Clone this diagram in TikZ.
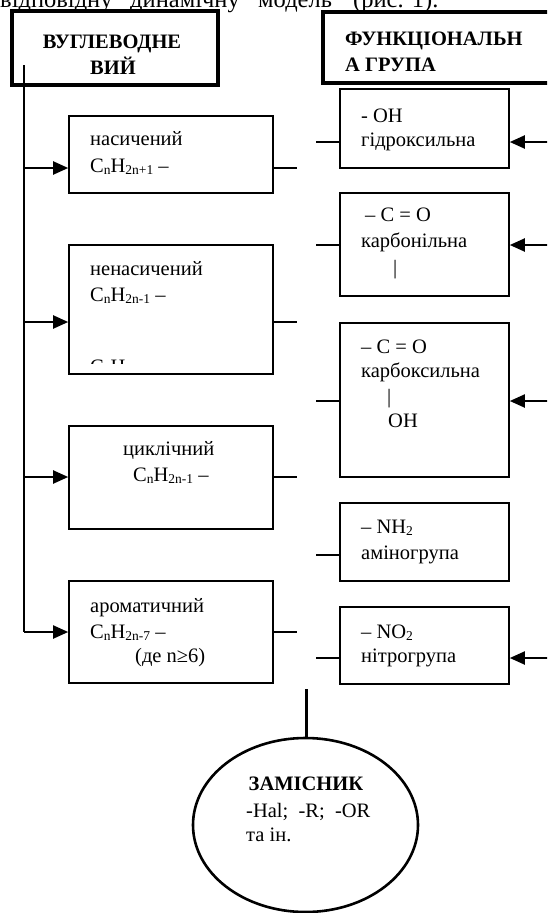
\documentclass[tikz,border=0pt]{standalone}
\usepackage{fontspec}
\setmainfont{Liberation Serif}
\usetikzlibrary{arrows.meta,shapes.geometric}
\newcommand\sbx[1]{\raisebox{-0.25ex}{\fontsize{13.5}{14}\selectfont #1}}
\tikzset{
  hdr/.style={draw, line width=3.5pt, inner sep=0pt},
  bx/.style={draw, line width=1.6pt, inner sep=0pt},
  arr/.style={line width=2pt, -{Triangle[length=15pt,width=13pt]}},
  stub/.style={line width=1.6pt},
  txt/.style={anchor=base west, inner sep=0pt, font=\fontsize{20.5}{24}\selectfont},
  itxt/.style={anchor=base west, inner sep=0pt, font=\fontsize{24.5}{28}\selectfont},
  btxt/.style={anchor=base, inner sep=0pt, font=\fontsize{20.5}{24}\selectfont\bfseries},
}
\begin{document}
\begin{tikzpicture}[x=1pt,y=-1pt]
\useasboundingbox (0,0) rectangle (547,913);
\clip (0,0) rectangle (547,913);
% top line of text, cut off by the upper edge
\node[itxt] (intro1) at (0,7) {відповідну};
\node[itxt] (intro2) at (130,7) {динамічну};
\node[itxt] (intro3) at (258,7) {модель};
\node[itxt] (intro4) at (353,7) {(рис. 1).};
% headers
\node[hdr, minimum width=206pt, minimum height=74pt] (h1) at (115,48) {};
\node[btxt] (h1a) at (112,48) {ВУГЛЕВОДНЕ};
\node[btxt] (h1b) at (113,74) {ВИЙ};
\node[hdr, minimum width=230pt, minimum height=71pt] (h2) at (438,47.5) {};
\node[txt, font=\fontsize{20.5}{24}\selectfont\bfseries] (h2a) at (345,45) {ФУНКЦІОНАЛЬН};
\node[txt, font=\fontsize{20.5}{24}\selectfont\bfseries] (h2b) at (345,71) {А ГРУПА};
% left boxes
\node[bx, minimum width=204pt, minimum height=77pt] (b1) at (171,154.5) {};
\node[bx, minimum width=204pt, minimum height=129pt] (b2) at (171,309.5) {};
\node[bx, minimum width=204pt, minimum height=103pt] (b3) at (171,477.5) {};
\node[bx, minimum width=204pt, minimum height=102pt] (b4) at (171,632) {};
\node[txt] (t1a) at (90,145) {насичений};
\node[txt] (t1b) at (90,172) {C\sbx{n}H\sbx{2n+1} –};
\node[txt] (t2a) at (90,275) {ненасичений};
\node[txt] (t2b) at (90,301) {C\sbx{n}H\sbx{2n-1} –};
\begin{scope}
\clip (80,340) rectangle (260,363);
\node[txt] (t2c) at (90,373) {C\sbx{n}H\sbx{2n-3} –};
\end{scope}
\node[txt] (t3a) at (123,455) {циклічний};
\node[txt] (t3b) at (133,481) {C\sbx{n}H\sbx{2n-1} –};
\node[txt] (t4a) at (90,612) {ароматичний};
\node[txt] (t4b) at (90,638) {C\sbx{n}H\sbx{2n-7} –};
\node[txt] (t4c) at (135,662) {(де n≥6)};
% right boxes
\node[bx, minimum width=169pt, minimum height=79pt] (r1) at (424.5,128.5) {};
\node[bx, minimum width=169pt, minimum height=103pt] (r2) at (424.5,244.5) {};
\node[bx, minimum width=169pt, minimum height=154pt] (r3) at (424.5,400) {};
\node[bx, minimum width=169pt, minimum height=78pt] (r4) at (424.5,542) {};
\node[bx, minimum width=169pt, minimum height=77pt] (r5) at (424.5,645.5) {};
\node[txt] (u1a) at (361,122) {- OH};
\node[txt] (u1b) at (361,146) {гідроксильна};
\node[txt] (u2a) at (365,221) {– C = O};
\node[txt] (u2b) at (361,247) {карбонільна};
\node[txt] (u2c) at (393,274) {|};
\node[txt] (u3a) at (361,353) {– C = O};
\node[txt] (u3b) at (361,377) {карбоксильна};
\node[txt] (u3c) at (387,403) {|};
\node[txt] (u3d) at (388,427) {OH};
\node[txt] (u4a) at (361,533) {– NH\sbx{2}};
\node[txt] (u4b) at (361,559) {аміногрупа};
\node[txt] (u5a) at (361,638) {– NO\sbx{2}};
\node[txt] (u5b) at (361,662) {нітрогрупа};
% substituent
\node[draw, ellipse, line width=2.6pt, minimum width=225pt, minimum height=174pt, inner sep=0pt] (e) at (305.5,825) {};
\node[btxt] (ea) at (306,790) {ЗАМІСНИК};
\node[txt] (eb) at (246,817) {-Hal;\ \ -R;\ \ -OR};
\node[txt] (ec) at (246,841) {та ін.};
% connectors, left side
\coordinate (vtop) at (24,65);
\coordinate (vbot) at (24,632);
\draw[line width=1.3pt] (vtop) -- (vbot);
\foreach \b/\yy in {b1/168, b2/322, b3/477, b4/632}{
  \coordinate (p\b) at (24,\yy);
  \draw[arr] (p\b) -- (p\b -| \b.west);
  \draw[stub] (p\b -| \b.east) -- ++(23,0);
}
% connectors, right side
\foreach \r/\yy in {r1/142, r2/245, r3/401, r4/555, r5/658}{
  \coordinate (q\r) at (549,\yy);
  \draw[stub] (q\r -| \r.west) -- ++(-23,0);
}
\foreach \r in {r1, r2, r3, r5}{
  \draw[arr] (q\r) -- (q\r -| \r.east);
}
\coordinate (vt) at (306,689);
\draw[line width=3pt] (vt) -- (vt |- e.north);
\end{tikzpicture}
\end{document}
